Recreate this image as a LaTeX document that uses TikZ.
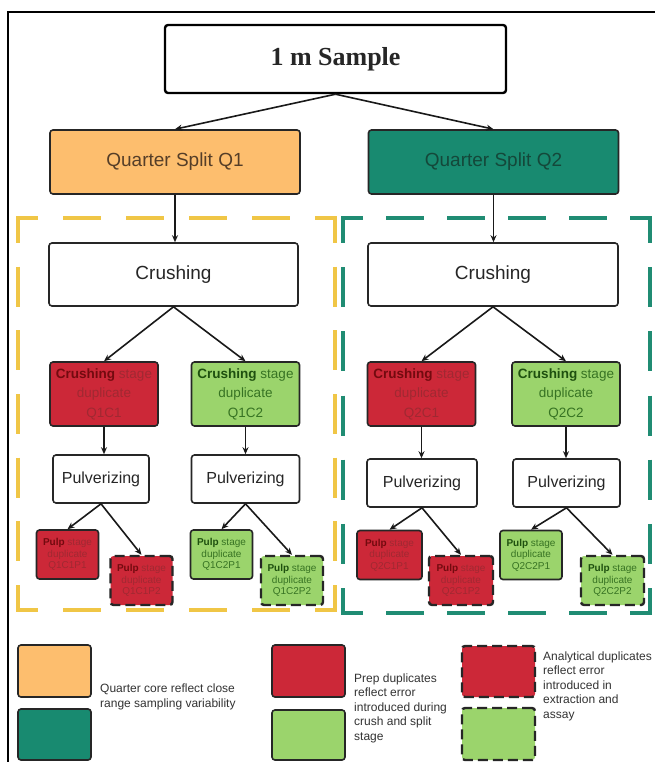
\documentclass[tikz,border=0pt]{standalone}
\usepackage{fontspec}
\setmainfont{Liberation Sans}
\newfontfamily\serifx{Liberation Serif}
\usetikzlibrary{arrows.meta}
\definecolor{qorange}{RGB}{253,190,110}
\definecolor{qteal}{RGB}{24,138,112}
\definecolor{dred}{RGB}{204,40,56}
\definecolor{lgreen}{RGB}{155,212,108}
\definecolor{ydash}{RGB}{240,198,70}
\definecolor{tdash}{RGB}{32,140,115}
\definecolor{rtxt}{RGB}{160,40,50}
\definecolor{rtxtb}{RGB}{115,10,15}
\definecolor{gtxt}{RGB}{55,115,35}
\definecolor{gtxtb}{RGB}{30,80,15}
\definecolor{q1txt}{RGB}{85,62,40}
\definecolor{q2txt}{RGB}{20,72,58}
\newcommand{\boldred}[1]{\textcolor{rtxtb}{\bfseries #1}}
\newcommand{\boldgrn}[1]{\textcolor{gtxtb}{\bfseries #1}}
\begin{document}
\begin{tikzpicture}[x=1pt,y=-1pt,
  box/.style={draw=black!85, line width=1.6, rounded corners=3, inner sep=0, align=center},
  arr/.style={-{Stealth[length=7pt,width=6pt]}, line width=1.6, draw=black!90},
  bigtxt/.style={font=\fontsize{19}{22}\selectfont, text=black!85},
  pulvtxt/.style={font=\fontsize{16}{19}\selectfont, text=black!85},
  dup/.style={box, minimum width=108, minimum height=64, font=\fontsize{13.5}{19.5}\selectfont},
  pulp/.style={box, minimum width=62, minimum height=49, font=\fontsize{10}{11.5}\selectfont},
  pdash/.style={dash pattern=on 10pt off 5pt, line width=2.4, draw=black!85},
  redfill/.style={fill=dred, text=rtxt},
  grnfill/.style={fill=lgreen, text=gtxt},
  grp/.style={line width=3.5},
  hdash/.style={dash pattern=on 38pt off #1, dash phase=16.25pt},
  vdash/.style={dash pattern=on 40pt off #1, dash phase=13.25pt},
  legtxt/.style={anchor=west, align=left, inner sep=0, font=\fontsize{12}{14.5}\selectfont, text=black!80}
]
\useasboundingbox (0,0) rectangle (655,762);
\fill[white] (0,0) rectangle (655,762);
% frame
\draw[line width=1.5] (8,762) -- (8,12) -- (655,12);

% dashed groups
\draw[grp, draw=ydash, hdash=25pt] (16.25,218) -- (336.75,218);
\draw[grp, draw=ydash, hdash=25pt] (16.25,610) -- (336.75,610);
\draw[grp, draw=ydash, vdash=23.67pt] (18,216.25) -- (18,611.75);
\draw[grp, draw=ydash, vdash=23.67pt] (335,216.25) -- (335,611.75);

\draw[grp, draw=tdash, hdash=23pt] (341.25,218) -- (651.75,218);
\draw[grp, draw=tdash, hdash=23pt] (341.25,613) -- (651.75,613);
\draw[grp, draw=tdash, vdash=24.17pt] (343,216.25) -- (343,614.75);
\draw[grp, draw=tdash, vdash=24.17pt] (650,216.25) -- (650,614.75);

% top
\node[box, line width=2.4, draw=black, minimum width=341, minimum height=68,
  font=\serifx\bfseries\fontsize{26}{30}\selectfont, text=black!85] (sample) at (335.5,59) {1 m Sample};
\node[box, fill=qorange, minimum width=250, minimum height=64, bigtxt, text=q1txt] (q1) at (175,162) {Quarter Split Q1};
\node[box, fill=qteal, minimum width=250, minimum height=64, bigtxt, text=q2txt] (q2) at (493.5,162) {Quarter Split Q2};

\node[box, fill=white, minimum width=249, minimum height=63, bigtxt] (cr1) at (173.5,274.5) {Crushing};
\node[box, fill=white, minimum width=250, minimum height=63, bigtxt] (cr2) at (493,274.5) {Crushing};

% crushing duplicates
\node[dup, redfill] (c11) at (104,394) {\boldred{Crushing} stage\\duplicate\\Q1C1};
\node[dup, grnfill] (c12) at (245.5,394) {\boldgrn{Crushing} stage\\duplicate\\Q1C2};
\node[dup, redfill] (c21) at (421.5,394) {\boldred{Crushing} stage\\duplicate\\Q2C1};
\node[dup, grnfill] (c22) at (566,394) {\boldgrn{Crushing} stage\\duplicate\\Q2C2};

% pulverizing
\node[box, fill=white, minimum width=96, minimum height=48, pulvtxt] (pv11) at (101,479) {Pulverizing};
\node[box, fill=white, minimum width=108, minimum height=48, pulvtxt] (pv12) at (245.5,479) {Pulverizing};
\node[box, fill=white, minimum width=110, minimum height=48, pulvtxt] (pv21) at (422,483) {Pulverizing};
\node[box, fill=white, minimum width=107, minimum height=48, pulvtxt] (pv22) at (566.5,483) {Pulverizing};

% pulp duplicates
\node[pulp, redfill] (p111) at (67.5,554.5) {\boldred{Pulp} stage\\duplicate\\Q1C1P1};
\node[pulp, redfill, pdash] (p112) at (141.5,580.5) {\boldred{Pulp} stage\\duplicate\\Q1C1P2};
\node[pulp, grnfill] (p121) at (221.5,554.5) {\boldgrn{Pulp} stage\\duplicate\\Q1C2P1};
\node[pulp, grnfill, pdash] (p122) at (292,580.5) {\boldgrn{Pulp} stage\\duplicate\\Q1C2P2};
\node[pulp, redfill, minimum width=65] (p211) at (389.5,555) {\boldred{Pulp} stage\\duplicate\\Q2C1P1};
\node[pulp, redfill, pdash, minimum width=64] (p212) at (461,580.5) {\boldred{Pulp} stage\\duplicate\\Q2C1P2};
\node[pulp, grnfill] (p221) at (531,555) {\boldgrn{Pulp} stage\\duplicate\\Q2C2P1};
\node[pulp, grnfill, pdash, minimum width=63] (p222) at (612.5,580.5) {\boldgrn{Pulp} stage\\duplicate\\Q2C2P2};

% connectors
\draw[arr] (sample.south) -- (q1.north);
\draw[arr] (sample.south) -- (q2.north);
\draw[arr] (q1.south) -- (q1.south |- cr1.north);
\draw[arr] (q2.south) -- (q2.south |- cr2.north);
\draw[arr] (cr1.south) -- (c11.north);
\draw[arr] (cr1.south) -- (c12.north);
\draw[arr] (cr2.south) -- (c21.north);
\draw[arr] (cr2.south) -- (c22.north);
\draw[arr] (c11.south) -- (c11.south |- pv11.north);
\draw[arr] (c12.south) -- (c12.south |- pv12.north);
\draw[arr] (c21.south) -- (c21.south |- pv21.north);
\draw[arr] (c22.south) -- (c22.south |- pv22.north);
\draw[arr] (pv11.south) -- (p111.north);
\draw[arr] (pv11.south) -- (p112.north);
\draw[arr] (pv12.south) -- (p121.north);
\draw[arr] (pv12.south) -- (p122.north);
\draw[arr] (pv21.south) -- (p211.north);
\draw[arr] (pv21.south) -- (p212.north);
\draw[arr] (pv22.south) -- (p221.north);
\draw[arr] (pv22.south) -- (p222.north);

% legend
\node[box, fill=qorange, minimum width=73, minimum height=52] (lq1) at (54.5,671) {};
\node[box, fill=qteal, minimum width=73, minimum height=51] (lq2) at (54.5,734.5) {};
\node[legtxt] (lt1) at (100,697) {Quarter core reflect close\\range sampling variability};
\node[box, fill=dred, minimum width=73, minimum height=52] (lr) at (308.5,671) {};
\node[box, fill=lgreen, minimum width=73, minimum height=50] (lg) at (308.5,735) {};
\node[legtxt] (lt2) at (354,708) {Prep duplicates\\reflect error\\introduced during\\crush and split\\stage};
\node[box, fill=dred, pdash, minimum width=73, minimum height=51] (ldr) at (498.5,671.5) {};
\node[box, fill=lgreen, pdash, minimum width=73, minimum height=52] (ldg) at (498.5,734) {};
\node[legtxt] (lt3) at (543,686) {Analytical duplicates\\reflect error\\introduced in\\extraction and\\assay};
\end{tikzpicture}
\end{document}
